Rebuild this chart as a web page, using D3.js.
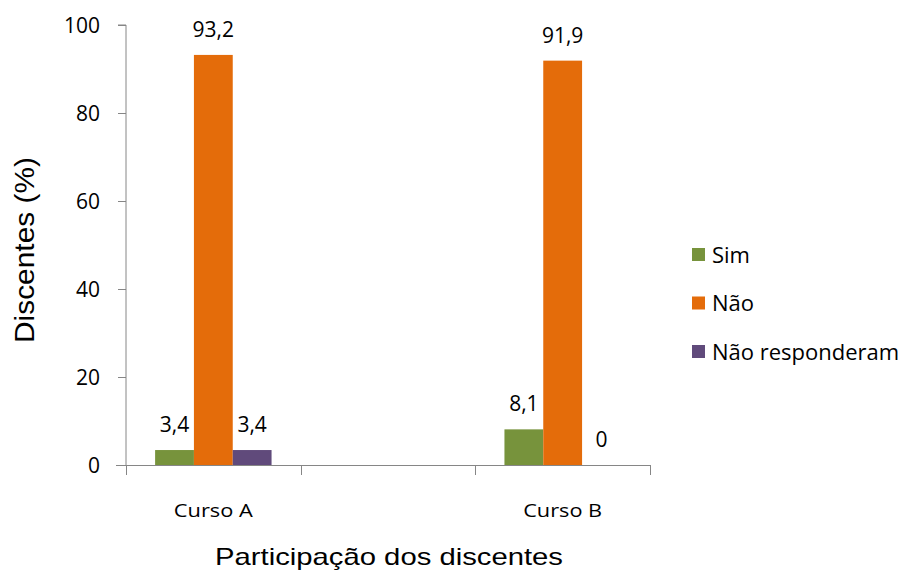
<!DOCTYPE html>
<html><head><meta charset="utf-8">
<script src="https://cdn.jsdelivr.net/npm/d3@7"></script>
<style>body{margin:0;background:#fff}</style>
</head><body>
<svg id="c" width="907" height="573"></svg>
<script>
const categories = ["Curso A", "", "Curso B"];
const seriesNames = ["Sim", "Não", "Não responderam"];
const sim = [3.4, null, 8.1];
const nao = [93.2, null, 91.9];
const naoResp = [3.4, null, 0];
const valueLabels = [["3,4","93,2","3,4"], [null,null,null], ["8,1","91,9","0"]];
const yTicks = [0, 20, 40, 60, 80, 100];
const colors = ["#77933C", "#E46C0A", "#604A7B"];

const svg = d3.select("#c");
const FONT = "'Open Sans', sans-serif";
const FONT2 = "'Liberation Sans', Arial, sans-serif";

const x = d3.scaleBand().domain(d3.range(categories.length)).range([126, 650]).paddingInner(0).paddingOuter(0);
const y = d3.scaleLinear().domain([0, 100]).range([465, 25]);
const bw = x.bandwidth() / 4.5;
const inner = d3.scaleBand().domain(d3.range(3)).range([x.bandwidth()/2 - 1.5*bw, x.bandwidth()/2 + 1.5*bw]);

const series = [sim, nao, naoResp];
const data = [];
categories.forEach((c, i) => series.forEach((s, j) => {
  if (s[i] !== null) data.push({i, j, v: s[i], label: valueLabels[i][j]});
}));

// bars
svg.append("g").selectAll("rect").data(data).join("rect")
  .attr("x", d => x(d.i) + inner(d.j))
  .attr("width", inner.bandwidth())
  .attr("y", d => y(d.v))
  .attr("height", d => y(0) - y(d.v))
  .attr("fill", d => colors[d.j]);

// y axis
const yAxis = svg.append("g").attr("transform", "translate(126,0)")
  .call(d3.axisLeft(y).tickValues(yTicks).tickSize(8).tickFormat(d3.format("d")));
yAxis.select(".domain").attr("stroke", "#868686").attr("d", "M-8," + y(100) + "H0V" + y(0));
yAxis.selectAll(".tick line").attr("stroke", "#868686");
yAxis.selectAll(".tick text").attr("x", -26).attr("dy", "0.35em")
  .attr("font-family", FONT).attr("font-size", 21).attr("fill", "#000");

// x axis
const xAxis = svg.append("g").attr("transform", "translate(0," + y(0) + ")");
xAxis.append("path").attr("d", "M116,0.5H650").attr("stroke", "#868686").attr("fill", "none");
const tickPos = d3.range(categories.length + 1).map(k => k < categories.length ? x(k) : x(categories.length - 1) + x.bandwidth());
xAxis.selectAll("line.t").data(tickPos).join("line").attr("class", "t")
  .attr("x1", d => Math.round(d) + 0.5).attr("x2", d => Math.round(d) + 0.5)
  .attr("y1", 0).attr("y2", 10).attr("stroke", "#868686");
xAxis.selectAll("text").data(categories.map((c, i) => ({c, i})).filter(d => d.c)).join("text")
  .attr("x", d => x(d.i) + x.bandwidth()/2).attr("y", 52)
  .attr("text-anchor", "middle").attr("font-family", FONT).attr("font-size", 18)
  .attr("textLength", 79).attr("lengthAdjust", "spacingAndGlyphs")
  .text(d => d.c);

// value labels
svg.append("g").selectAll("text").data(data).join("text")
  .attr("x", d => x(d.i) + inner(d.j) + inner.bandwidth()/2)
  .attr("y", d => y(d.v) - 18)
  .attr("text-anchor", "middle").attr("font-family", FONT).attr("font-size", 21)
  .text(d => d.label);

// axis titles
svg.append("text").attr("x", 389).attr("y", 565).attr("text-anchor", "middle")
  .attr("font-family", FONT2).attr("font-size", 24)
  .attr("textLength", 348).attr("lengthAdjust", "spacingAndGlyphs")
  .text("Participação dos discentes");
svg.append("text").attr("transform", "translate(34,250) rotate(-90)").attr("text-anchor", "middle")
  .attr("font-family", FONT2).attr("font-size", 28)
  .attr("textLength", 186).attr("lengthAdjust", "spacingAndGlyphs")
  .text("Discentes (%)");

// legend
const leg = svg.append("g");
const legY = d3.scalePoint().domain(seriesNames).range([255, 352]);
seriesNames.forEach((n, j) => {
  leg.append("rect").attr("x", 692).attr("y", legY(n) - 7).attr("width", 13).attr("height", 13).attr("fill", colors[j]);
  leg.append("text").attr("x", 712).attr("y", legY(n) + 7.5)
    .attr("font-family", FONT).attr("font-size", 22).text(n);
});
</script>
</body></html>
